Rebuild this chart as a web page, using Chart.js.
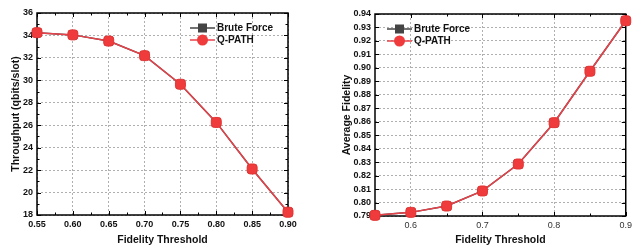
<!DOCTYPE html>
<html>
<head>
<meta charset="utf-8">
<script src="https://cdn.jsdelivr.net/npm/chart.js@4.4.1/dist/chart.umd.min.js"></script>
<style>
body { margin: 0; background: #fff; }
.wrap { position: absolute; top: 0; width: 318px; height: 247px; }
</style>
</head>
<body>
<div class="wrap" style="left:0"><canvas id="throughputChart" width="318" height="247"></canvas></div>
<div class="wrap" style="left:318px"><canvas id="fidelityChart" width="318" height="247"></canvas></div>
<script>
const thresholds = [0.55, 0.60, 0.65, 0.70, 0.75, 0.80, 0.85, 0.90];
const throughputBrute = [34.25, 34.05, 33.5, 32.2, 29.65, 26.25, 22.1, 18.25];
const throughputQpath = [34.25, 34.05, 33.5, 32.2, 29.65, 26.25, 22.1, 18.25];
const fidelityBrute = [0.7905, 0.7927, 0.7974, 0.8086, 0.8286, 0.8593, 0.8975, 0.9350];
const fidelityQpath = [0.7905, 0.7927, 0.7974, 0.8086, 0.8286, 0.8593, 0.8975, 0.9350];

const throughputXTicks = [0.55, 0.60, 0.65, 0.70, 0.75, 0.80, 0.85, 0.90];
const throughputYTicks = [18, 20, 22, 24, 26, 28, 30, 32, 34, 36];
const fidelityXTicks = [0.6, 0.7, 0.8, 0.9];
const fidelityYTicks = [0.79, 0.80, 0.81, 0.82, 0.83, 0.84, 0.85, 0.86, 0.87, 0.88, 0.89, 0.90, 0.91, 0.92, 0.93, 0.94];

Chart.defaults.font.family = "'Liberation Sans', Arial, sans-serif";
Chart.defaults.color = '#111';

const RED = '#ef3b3b';
const GRAY = '#444';

// frame + inward ticks on all four sides, origin style
const framePlugin = {
  id: 'frame',
  beforeDatasetsDraw(chart, args, opts) {
    const ctx = chart.ctx;
    const a = chart.chartArea;
    const xs = chart.scales.x, ys = chart.scales.y;
    const xMajor = xs.ticks.map(t => t.value);
    const yMajor = ys.ticks.map(t => t.value);
    const mids = arr => arr.slice(1).map((v, i) => (v + arr[i]) / 2);
    const xMinor = mids(xMajor);
    const yMinor = opts.yMinor ? mids(yMajor) : [];
    ctx.save();
    ctx.strokeStyle = '#000';
    ctx.lineWidth = 1;
    const tick = (list, len, isX) => {
      list.forEach(v => {
        ctx.beginPath();
        if (isX) {
          const p = Math.round(xs.getPixelForValue(v)) + 0.5;
          ctx.moveTo(p, a.bottom); ctx.lineTo(p, a.bottom - len);
          ctx.moveTo(p, a.top); ctx.lineTo(p, a.top + len);
        } else {
          const p = Math.round(ys.getPixelForValue(v)) + 0.5;
          ctx.moveTo(a.left, p); ctx.lineTo(a.left + len, p);
          ctx.moveTo(a.right, p); ctx.lineTo(a.right - len, p);
        }
        ctx.stroke();
      });
    };
    tick(xMajor, 4, true);
    tick(yMajor, 4, false);
    tick(xMinor, 2.5, true);
    tick(yMinor, 2.5, false);
    ctx.lineWidth = 1.5;
    ctx.strokeRect(a.left, a.top, a.right - a.left, a.bottom - a.top);
    ctx.restore();
  }
};

// legend drawn inside the plot, line + marker like the original
const lineLegend = {
  id: 'lineLegend',
  afterDraw(chart, args, opts) {
    const ctx = chart.ctx;
    ctx.save();
    chart.data.datasets.forEach((ds, i) => {
      const y = opts.y + i * opts.gap;
      ctx.strokeStyle = ds.borderColor;
      ctx.lineWidth = 1.5;
      ctx.beginPath();
      ctx.moveTo(opts.x, y);
      ctx.lineTo(opts.x + 25, y);
      ctx.stroke();
      ctx.fillStyle = ds.pointBackgroundColor;
      const cx = opts.x + 12.5;
      if (ds.legendMarker === 'square') {
        ctx.fillRect(cx - 4.5, y - 4.5, 9, 9);
      } else {
        ctx.beginPath();
        ctx.arc(cx, y, 5.5, 0, Math.PI * 2);
        ctx.fill();
      }
      ctx.fillStyle = '#111';
      ctx.font = "bold 10px 'Liberation Sans', Arial, sans-serif";
      ctx.textBaseline = 'middle';
      ctx.fillText(ds.label, opts.x + 27, y + 0.5);
    });
    ctx.restore();
  }
};

function makeDatasets(brute, qpath) {
  return [{
    label: 'Brute Force',
    legendMarker: 'square',
    data: brute,
    borderColor: GRAY,
    borderWidth: 1.5,
    pointStyle: 'rect',
    pointRadius: 5.7,
    pointBackgroundColor: GRAY,
    pointBorderColor: '#333',
    pointBorderWidth: 1,
    order: 2,
    clip: false
  }, {
    label: 'Q-PATH',
    legendMarker: 'circle',
    data: qpath,
    borderColor: '#e8424a',
    borderWidth: 1.5,
    pointStyle: 'rectRounded',
    pointRadius: 5.8,
    pointBackgroundColor: RED,
    pointBorderColor: '#e23535',
    pointBorderWidth: 1,
    order: 1,
    clip: false
  }];
}

function createChart(canvas, cfg) {
  return new Chart(canvas, {
    type: 'line',
    data: {
      labels: thresholds,
      datasets: makeDatasets(cfg.brute, cfg.qpath)
    },
    plugins: [framePlugin, lineLegend],
    options: {
      responsive: false,
      animation: false,
      layout: { padding: cfg.padding },
      plugins: {
        legend: { display: false },
        tooltip: { enabled: false },
        frame: { yMinor: cfg.yMinor },
        lineLegend: cfg.legend
      },
      scales: {
        x: {
          type: 'linear',
          min: cfg.xMin, max: cfg.xMax,
          afterBuildTicks: s => { s.ticks = cfg.xTicks.map(v => ({ value: v })); },
          afterFit: s => { s.height = cfg.xHeight; },
          grid: { color: '#b0b0b0', drawTicks: false },
          border: { display: false, dash: [2, 2] },
          ticks: {
            padding: 4,
            maxRotation: 0,
            autoSkip: false,
            color: cfg.xTickColor,
            font: { size: 9, weight: cfg.xTickWeight },
            callback: v => v.toFixed(cfg.xDigits)
          },
          title: {
            display: true,
            text: 'Fidelity Threshold',
            color: '#111',
            font: { size: 10.5, weight: 'bold' },
            padding: { top: 0, bottom: 1 }
          }
        },
        y: {
          min: cfg.yMin, max: cfg.yMax,
          afterBuildTicks: s => { s.ticks = cfg.yTicks.map(v => ({ value: v })); },
          afterFit: s => { s.width = cfg.yWidth; },
          grid: { color: '#b0b0b0', drawTicks: false },
          border: { display: false, dash: [2, 2] },
          ticks: {
            padding: 4,
            autoSkip: false,
            color: '#111',
            font: { size: 9, weight: 'bold' },
            callback: v => v.toFixed(cfg.yDigits)
          },
          title: {
            display: true,
            text: cfg.yTitle,
            color: '#111',
            font: { size: 10.5, weight: 'bold' },
            padding: { top: cfg.yTitlePad, bottom: 0 }
          }
        }
      }
    }
  });
}

createChart(document.getElementById('throughputChart'), {
  brute: throughputBrute, qpath: throughputQpath,
  xMin: 0.55, xMax: 0.90, yMin: 18, yMax: 36,
  xTicks: throughputXTicks, yTicks: throughputYTicks,
  xDigits: 2, yDigits: 0,
  xTickColor: '#111', xTickWeight: 'bold',
  yTitle: 'Throughput (qbits/slot)', yTitlePad: 10,
  padding: { top: 13, right: 30, left: 0, bottom: 0 },
  xHeight: 32, yWidth: 37, yMinor: true,
  legend: { x: 190, y: 28, gap: 12 }
});

createChart(document.getElementById('fidelityChart'), {
  brute: fidelityBrute, qpath: fidelityQpath,
  xMin: 0.55, xMax: 0.90, yMin: 0.79, yMax: 0.94,
  xTicks: fidelityXTicks, yTicks: fidelityYTicks,
  xDigits: 1, yDigits: 2,
  xTickColor: '#333', xTickWeight: 'normal',
  yTitle: 'Average Fidelity', yTitlePad: 23,
  padding: { top: 14, right: 10, left: 0, bottom: 0 },
  xHeight: 31, yWidth: 57, yMinor: false,
  legend: { x: 69, y: 29, gap: 12 }
});
</script>
</body>
</html>
